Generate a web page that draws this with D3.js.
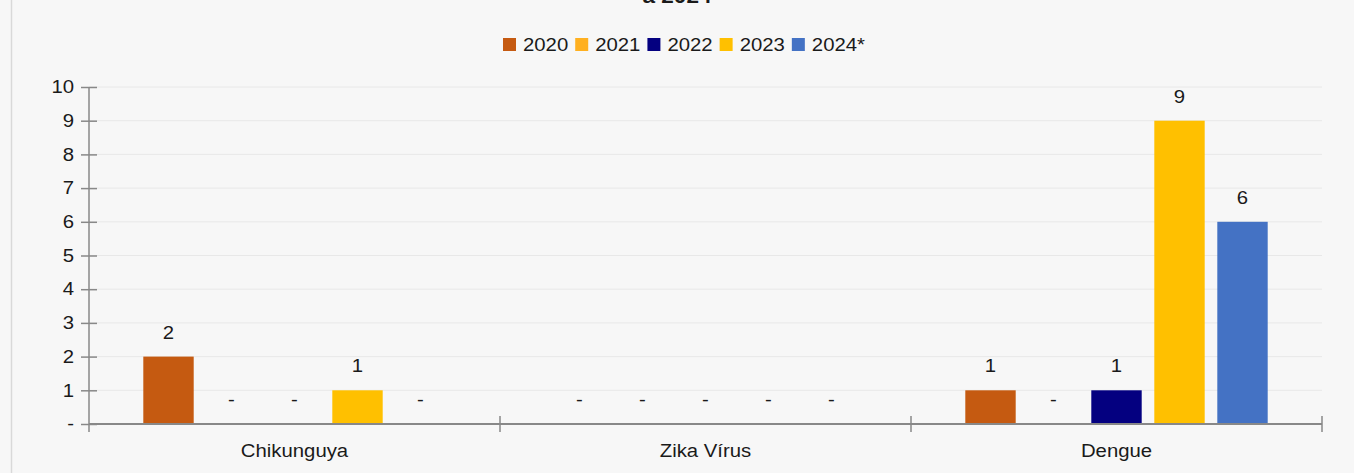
<!DOCTYPE html>
<html>
<head>
<meta charset="utf-8">
<script src="https://cdn.jsdelivr.net/npm/d3@7"></script>
<style>
  html, body { margin: 0; padding: 0; background: #f7f7f7; }
  svg { display: block; }
  text { font-family: "Liberation Sans", Arial, sans-serif; fill: #1a1a1a; }
</style>
</head>
<body>
<svg id="chart" width="1354" height="473"></svg>
<script>
// Arbovirus cases by disease and year
const categories = ["Chikunguya", "Zika Vírus", "Dengue"];
const seriesNames = ["2020", "2021", "2022", "2023", "2024*"];
const seriesColors = ["#c55a11", "#ffb020", "#040080", "#ffc000", "#4472c4"];
const values2020 = [2, 0, 1];
const values2021 = [0, 0, 0];
const values2022 = [0, 0, 1];
const values2023 = [1, 0, 9];
const values2024 = [0, 0, 6];
const yTicks = [0, 1, 2, 3, 4, 5, 6, 7, 8, 9, 10];
const titleLine = "a 2024";

const seriesValues = [values2020, values2021, values2022, values2023, values2024];

const svg = d3.select("#chart");
const W = 1354, H = 473;
const plotLeft = 89, plotRight = 1322, plotTop = 87, plotBottom = 424;
const SX = 1.13;      // horizontal widening of the lettering
const FS = 18;

function label(parent, x, y, str, anchor, size, weight) {
  return parent.append("text")
    .attr("transform", `translate(${x},${y}) scale(${SX},1)`)
    .attr("text-anchor", anchor || "start")
    .attr("font-size", size || FS)
    .attr("font-weight", weight || "normal")
    .text(str);
}

// frame edge on the left
svg.append("line").attr("x1", 11.5).attr("x2", 11.5).attr("y1", 0).attr("y2", H)
  .attr("stroke", "#d9d9d9").attr("stroke-width", 1.5);

// title (last line only sits in view)
label(svg, W / 2, 3, titleLine, "middle", 20, "bold");

// legend
const legend = svg.append("g").attr("transform", "translate(503,38)");
let lx = 0;
seriesNames.forEach((name, i) => {
  const g = legend.append("g").attr("transform", `translate(${lx},0)`);
  g.append("rect").attr("x", 0).attr("y", 0).attr("width", 13).attr("height", 13)
    .attr("fill", seriesColors[i]);
  const t = label(g, 20, 13, name, "start", FS);
  lx += 20 + t.node().getComputedTextLength() * SX + 7;
});

const x0 = d3.scaleBand().domain(categories).range([plotLeft, plotRight]).paddingInner(0).paddingOuter(0);
const x1 = d3.scaleBand().domain(seriesNames).range([48, x0.bandwidth() - 48])
  .paddingInner(0.2).paddingOuter(0.1);
const y = d3.scaleLinear().domain([0, 10]).range([plotBottom, plotTop]);

// gridlines
svg.append("g").selectAll("line").data(yTicks.filter(d => d > 0)).join("line")
  .attr("x1", plotLeft).attr("x2", plotRight)
  .attr("y1", d => y(d)).attr("y2", d => y(d))
  .attr("stroke", "#e8e8e8").attr("stroke-width", 1);

// bars with value labels; empty entries show a dash
const groups = svg.append("g").selectAll("g").data(categories).join("g")
  .attr("transform", c => `translate(${x0(c)},0)`);

groups.each(function (c, ci) {
  const g = d3.select(this);
  seriesNames.forEach((s, si) => {
    const v = seriesValues[si][ci];
    const cx = x1(s) + x1.bandwidth() / 2;
    if (v > 0) {
      g.append("rect").attr("x", x1(s)).attr("y", y(v))
        .attr("width", x1.bandwidth()).attr("height", y(0) - y(v))
        .attr("fill", seriesColors[si]);
      label(g, cx, y(v) - 18, v, "middle");
    } else {
      label(g, cx, y(0) - 18, "-", "middle");
    }
  });
});

// y axis
const yAxis = d3.axisLeft(y).tickValues(yTicks)
  .tickFormat(d => d === 0 ? "-" : d).tickSize(8).tickPadding(6);
const yg = svg.append("g").attr("transform", `translate(${plotLeft},0)`).call(yAxis);
yg.select(".domain").remove();
yg.selectAll(".tick line").attr("x2", 8).attr("x1", -8).attr("stroke", "#888").attr("stroke-width", 1.5);
yg.selectAll(".tick text").attr("x", -15 / SX).attr("font-size", FS)
  .attr("transform", `scale(${SX},1)`)
  .attr("font-family", "Liberation Sans, Arial, sans-serif").attr("fill", "#1a1a1a");
svg.append("line").attr("x1", plotLeft).attr("x2", plotLeft).attr("y1", plotTop).attr("y2", plotBottom + 8)
  .attr("stroke", "#888").attr("stroke-width", 1.5);

// x axis
svg.append("line").attr("x1", plotLeft).attr("x2", plotRight).attr("y1", plotBottom).attr("y2", plotBottom)
  .attr("stroke", "#888").attr("stroke-width", 2);
const boundaries = categories.map(c => x0(c)).concat([plotRight]);
svg.append("g").selectAll("line").data(boundaries.slice(1)).join("line")
  .attr("x1", d => d).attr("x2", d => d).attr("y1", plotBottom - 8).attr("y2", plotBottom + 8)
  .attr("stroke", "#888").attr("stroke-width", 1.5);
const xl = svg.append("g");
categories.forEach(c => label(xl, x0(c) + x0.bandwidth() / 2, 457, c, "middle"));
</script>
</body>
</html>
